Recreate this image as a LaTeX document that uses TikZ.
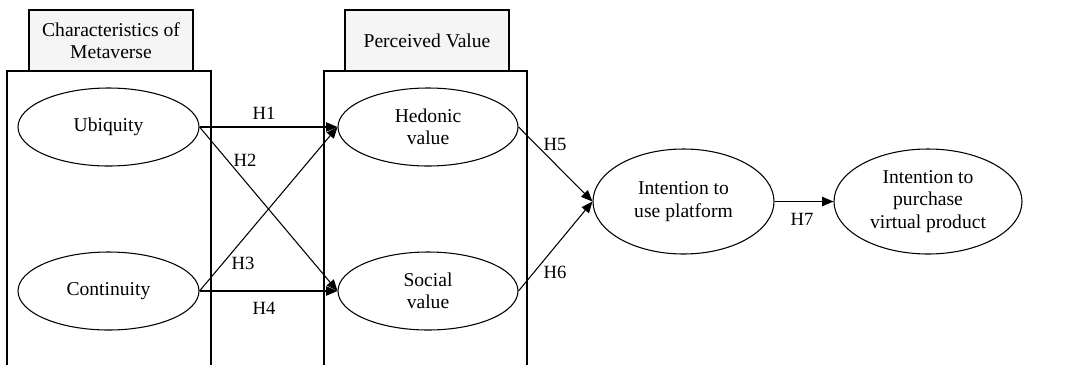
\documentclass[tikz,border=0pt]{standalone}
\usepackage{fontspec}
\setmainfont{Liberation Serif}
\usetikzlibrary{shapes.geometric,arrows.meta}
\begin{document}
\begin{tikzpicture}[x=0.75pt,y=-0.75pt,
  txt/.style={font=\fontsize{14.7}{16.8}\selectfont, align=center, inner sep=0pt},
  oval/.style={draw, line width=0.8pt, ellipse, inner sep=0pt, txt},
  hdr/.style={draw, line width=0.8pt, fill=black!4, inner sep=0pt, txt},
  lbl/.style={txt, font=\fontsize{14}{16}\selectfont},
  arr/.style={line width=0.8pt, -{Triangle[length=8.5pt,width=7pt]}},
  frame/.style={line width=0.8pt}]
\useasboundingbox (0,0) rectangle (1092,365);
% group frames
\draw[frame] (7,365) -- (7,71) -- (211,71) -- (211,365);
\draw[frame] (324,365) -- (324,71) -- (527,71) -- (527,365);
\node[hdr, minimum width=164*0.75pt, minimum height=61*0.75pt] (h1) at (111,40.5) {Characteristics of\\Metaverse};
\node[hdr, minimum width=164*0.75pt, minimum height=61*0.75pt] (h2) at (427,40.5) {Perceived Value};
% ovals
\node[oval, minimum width=181*0.75pt, minimum height=78*0.75pt] (ubi) at (108.5,127) {Ubiquity};
\node[oval, minimum width=181*0.75pt, minimum height=78*0.75pt] (con) at (108.5,291) {Continuity};
\node[oval, minimum width=180*0.75pt, minimum height=78*0.75pt] (hed) at (428,127) {Hedonic\\value};
\node[oval, minimum width=180*0.75pt, minimum height=78*0.75pt] (soc) at (428,291) {Social\\value};
\node[oval, minimum width=181*0.75pt, minimum height=105*0.75pt] (use) at (683.5,201.5) {Intention to\\use platform};
\node[oval, minimum width=188*0.75pt, minimum height=105*0.75pt] (pur) at (928,201.5) {Intention to\\purchase\\virtual product};
% arrows
\draw[arr] (ubi.east) -- (hed.west);
\draw[arr] (ubi.east) -- (soc.west);
\draw[arr] (con.east) -- (hed.west);
\draw[arr] (con.east) -- (soc.west);
\draw[arr] (hed.east) -- (use.west);
\draw[arr] (soc.east) -- (use.west);
\draw[arr] (use.east) -- (pur.west);
% labels
\node[lbl] (l1) at (264,113) {H1};
\node[lbl] (l2) at (245,160) {H2};
\node[lbl] (l3) at (243,263) {H3};
\node[lbl] (l4) at (264,308) {H4};
\node[lbl] (l5) at (555,144) {H5};
\node[lbl] (l6) at (555,272) {H6};
\node[lbl] (l7) at (802,219) {H7};
\end{tikzpicture}
\end{document}
